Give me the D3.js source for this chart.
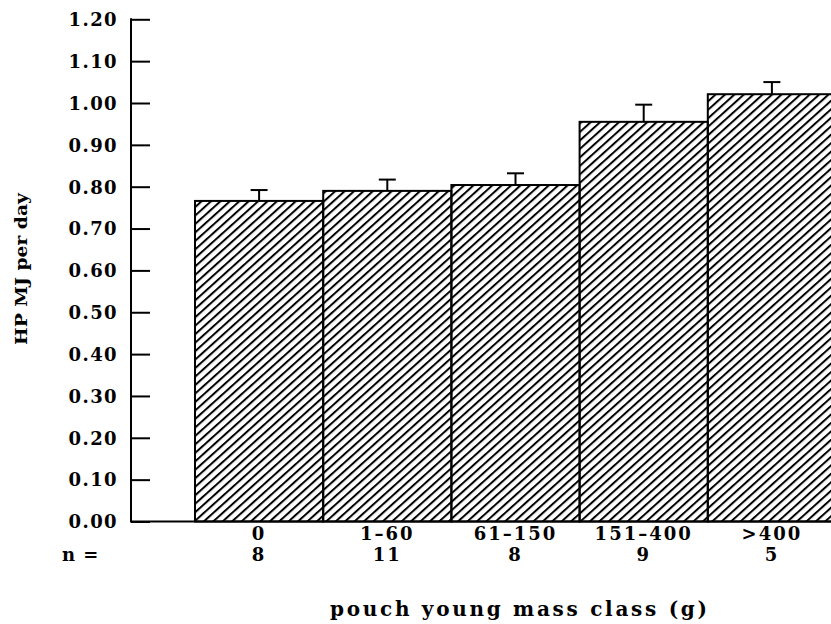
<!DOCTYPE html>
<html>
<head>
<meta charset="utf-8">
<script src="https://cdn.jsdelivr.net/npm/d3@7"></script>
<style>
  body { margin: 0; background: #fff; }
  text { font-family: "DejaVu Serif", serif; font-weight: bold; fill: #000; }
</style>
</head>
<body>
<div id="chart"></div>
<script>
const categories = ["0", "1\u201360", "61\u2013150", "151\u2013400", ">400"];
const counts = [8, 11, 8, 9, 5];
const means = [0.766, 0.790, 0.804, 0.955, 1.021];
const errors = [0.026, 0.027, 0.028, 0.041, 0.029];
const yTicks = [0, 0.1, 0.2, 0.3, 0.4, 0.5, 0.6, 0.7, 0.8, 0.9, 1.0, 1.1, 1.2];

const width = 831, height = 624;
const axisX = 131;

const svg = d3.select("#chart")
  .append("svg")
  .attr("width", width)
  .attr("height", height);

// hatch fill
const defs = svg.append("defs");
defs.append("pattern")
  .attr("id", "hatch")
  .attr("patternUnits", "userSpaceOnUse")
  .attr("width", 6.3)
  .attr("height", 6.3)
  .attr("patternTransform", "rotate(-42)")
  .append("rect")
  .attr("x", 0).attr("y", 0)
  .attr("width", 6.3).attr("height", 2)
  .attr("fill", "#000");

const yScale = d3.scaleLinear()
  .domain([0, 1.2])
  .range([521.5, 19.3]);

const xScale = d3.scaleBand()
  .domain(categories)
  .range([195, 836])
  .padding(0);

const data = categories.map((c, i) => ({ cat: c, n: counts[i], mean: means[i], err: errors[i] }));

// bars
svg.selectAll(".bar")
  .data(data)
  .enter()
  .append("rect")
  .attr("class", "bar")
  .attr("x", d => xScale(d.cat))
  .attr("y", d => yScale(d.mean))
  .attr("width", xScale.bandwidth())
  .attr("height", d => yScale(0) - yScale(d.mean))
  .attr("fill", "url(#hatch)")
  .attr("stroke", "#000")
  .attr("stroke-width", 2);

// error bars
const err = svg.selectAll(".err")
  .data(data)
  .enter()
  .append("g")
  .attr("class", "err")
  .attr("stroke", "#000")
  .attr("stroke-width", 2);

err.append("line")
  .attr("x1", d => xScale(d.cat) + xScale.bandwidth() / 2)
  .attr("x2", d => xScale(d.cat) + xScale.bandwidth() / 2)
  .attr("y1", d => yScale(d.mean))
  .attr("y2", d => yScale(d.mean + d.err));

err.append("line")
  .attr("x1", d => xScale(d.cat) + xScale.bandwidth() / 2 - 8.5)
  .attr("x2", d => xScale(d.cat) + xScale.bandwidth() / 2 + 8.5)
  .attr("y1", d => yScale(d.mean + d.err))
  .attr("y2", d => yScale(d.mean + d.err));

// baseline
svg.append("line")
  .attr("x1", axisX).attr("x2", width)
  .attr("y1", yScale(0)).attr("y2", yScale(0))
  .attr("stroke", "#000").attr("stroke-width", 2);

// y axis
const yAxis = d3.axisRight(yScale)
  .tickValues(yTicks)
  .tickSize(19)
  .tickFormat(d3.format(".2f"));

const yg = svg.append("g")
  .attr("transform", `translate(${axisX},0)`)
  .call(yAxis);

yg.select(".domain").remove();
yg.selectAll(".tick line").attr("stroke", "#000").attr("stroke-width", 2);
yg.selectAll(".tick text")
  .attr("x", -13)
  .attr("dy", "0.35em")
  .attr("text-anchor", "end")
  .style("font-family", "DejaVu Serif")
  .style("font-weight", "bold")
  .style("font-size", "18px")
  .style("letter-spacing", "1.4px");

yg.append("line")
  .attr("x1", 0).attr("x2", 0)
  .attr("y1", yScale(1.2) - 1).attr("y2", yScale(0) + 1)
  .attr("stroke", "#000").attr("stroke-width", 2);

// category labels and counts
svg.selectAll(".cat")
  .data(data)
  .enter()
  .append("text")
  .attr("class", "cat")
  .attr("x", d => xScale(d.cat) + xScale.bandwidth() / 2)
  .attr("y", 540)
  .attr("text-anchor", "middle")
  .style("font-size", "18px")
  .style("letter-spacing", "2px")
  .text(d => d.cat);

svg.selectAll(".count")
  .data(data)
  .enter()
  .append("text")
  .attr("class", "count")
  .attr("x", d => xScale(d.cat) + xScale.bandwidth() / 2)
  .attr("y", 561)
  .attr("text-anchor", "middle")
  .style("font-size", "18px")
  .style("letter-spacing", "2px")
  .text(d => d.n);

svg.append("text")
  .attr("x", 62)
  .attr("y", 561)
  .style("font-size", "18px")
  .style("letter-spacing", "1px")
  .text("n =");

// axis titles
svg.append("text")
  .attr("x", 330)
  .attr("y", 616)
  .attr("textLength", 377)
  .attr("lengthAdjust", "spacing")
  .style("font-size", "20px")
  .text("pouch young mass class (g)");

svg.append("text")
  .attr("transform", "translate(27,269) rotate(-90)")
  .attr("text-anchor", "middle")
  .attr("textLength", 152)
  .attr("lengthAdjust", "spacingAndGlyphs")
  .style("font-size", "17px")
  .text("HP MJ per day");
</script>
</body>
</html>
